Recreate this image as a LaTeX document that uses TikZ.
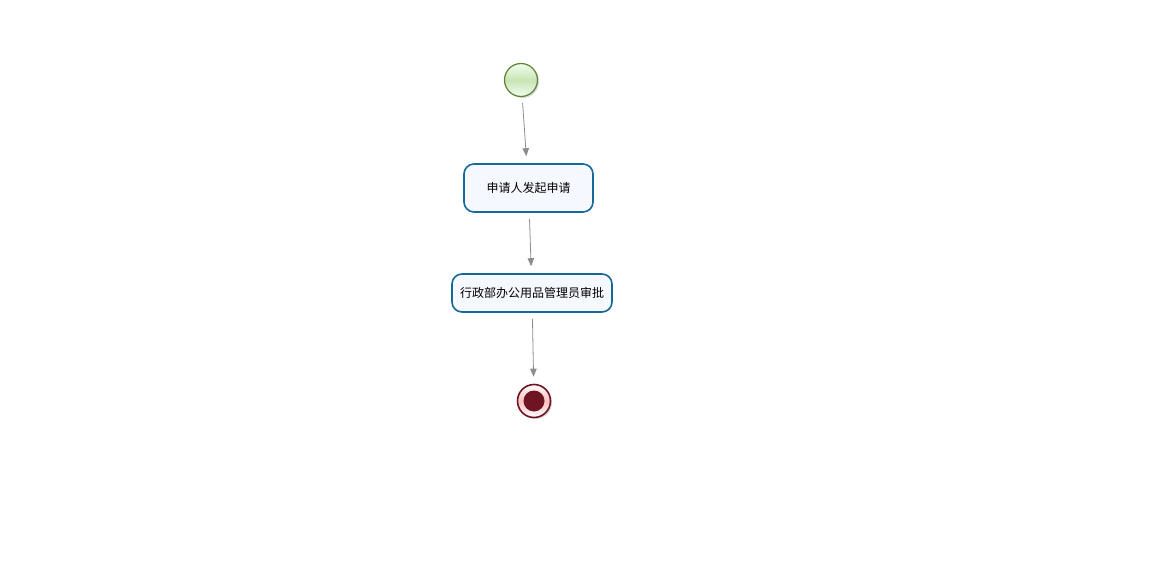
\documentclass[tikz,border=0pt]{standalone}
\usepackage{fontspec}
\newfontfamily\cjk{Noto Sans CJK SC}
\usetikzlibrary{shapes,shadows,arrows.meta}

\definecolor{taskline}{RGB}{22,104,150}
\definecolor{taskfill}{RGB}{246,248,255}
\definecolor{startline}{RGB}{96,130,50}
\definecolor{startmid}{RGB}{200,228,180}
\definecolor{endline}{RGB}{110,20,35}
\definecolor{flowline}{RGB}{140,140,140}

\begin{document}
\begin{tikzpicture}[x=1pt,y=-1pt,
    task/.style={draw=taskline,line width=1.6pt,fill=taskfill,rounded corners=10pt,
      font=\cjk\fontsize{12}{14}\selectfont,inner sep=0pt},
    flow/.style={draw=flowline,line width=0.8pt,-{Triangle[length=8pt,width=6.5pt]},
      shorten <=6pt,shorten >=7pt}]
  \useasboundingbox (0,0) rectangle (1168,575);

  \node[shape=circle,minimum size=33pt,draw=startline,line width=1.2pt,
    top color=green!6!white,bottom color=green!6!white,middle color=startmid,
    drop shadow={shadow xshift=1.5pt,shadow yshift=-1.5pt,opacity=0.3}] (start) at (521,80) {};

  \node[task,minimum width=129pt,minimum height=48pt] (apply) at (528.5,188) {申请人发起申请};
  \node[task,minimum width=160pt,minimum height=38pt] (approve) at (532,293) {行政部办公用品管理员审批};

  \node[shape=circle,minimum size=33pt,draw=endline,line width=1.6pt,
    top color=white,bottom color=white,middle color=red!25!white,
    drop shadow={shadow xshift=1.5pt,shadow yshift=-1.5pt,opacity=0.3}] (end) at (534,401) {};
  \node[shape=circle,minimum size=21pt,fill=endline] (endcore) at (end) {};

  \draw[flow] (start) -- (apply);
  \draw[flow] (apply) -- (approve);
  \draw[flow] (approve) -- (end);

\end{tikzpicture}
\end{document}
